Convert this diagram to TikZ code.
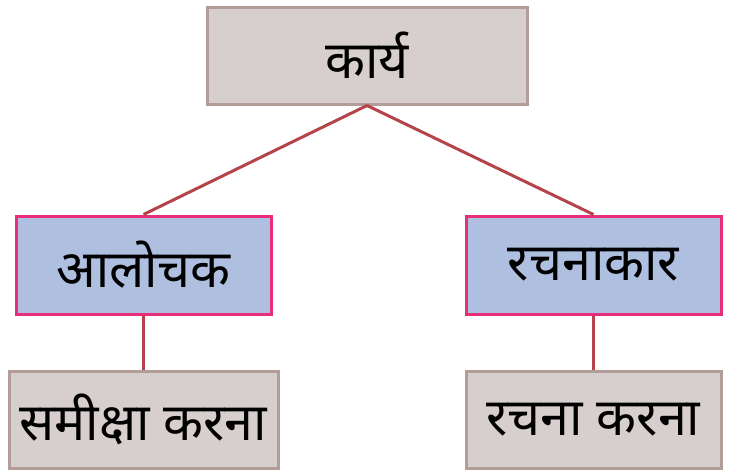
\documentclass[tikz,border=0pt]{standalone}
\usepackage{fontspec}
\newfontfamily\devfont[Script=Devanagari]{Noto Sans}
\definecolor{greyfill}{HTML}{D7CFCE}
\definecolor{greyline}{HTML}{B39D99}
\definecolor{bluefill}{HTML}{AEBFE0}
\definecolor{pinkline}{HTML}{E62E7B}
\definecolor{linkline}{HTML}{B5444A}
\begin{document}
\begin{tikzpicture}[x=1pt, y=-1pt, every node/.style={rectangle, draw, line width=3pt, inner sep=0pt, font=\devfont\fontsize{52}{60}\selectfont},
  greybox/.style={fill=greyfill, draw=greyline},
  bluebox/.style={fill=bluefill, draw=pinkline},
  link/.style={draw=linkline, line width=3pt}]
  \useasboundingbox (0,0) rectangle (730,471);
  \node[greybox, minimum width=320pt, minimum height=97pt] (karya) at (367, 55.5) {कार्य};
  \node[bluebox, minimum width=255pt, minimum height=98pt] (alochak) at (143.5, 265) {आलोचक};
  \node[bluebox, minimum width=255pt, minimum height=98pt] (rachnakar) at (593.5, 265) {रचनाकार};
  \node[greybox, minimum width=269pt, minimum height=97pt] (samiksha) at (143.5, 419.5) {समीक्षा करना};
  \node[greybox, minimum width=255pt, minimum height=97pt] (rachna) at (593.5, 419.5) {रचना करना};
  \draw[link] (karya.south) -- (alochak.north);
  \draw[link] (karya.south) -- (rachnakar.north);
  \draw[link] (alochak) -- (samiksha);
  \draw[link] (rachnakar) -- (rachna);
\end{tikzpicture}
\end{document}
